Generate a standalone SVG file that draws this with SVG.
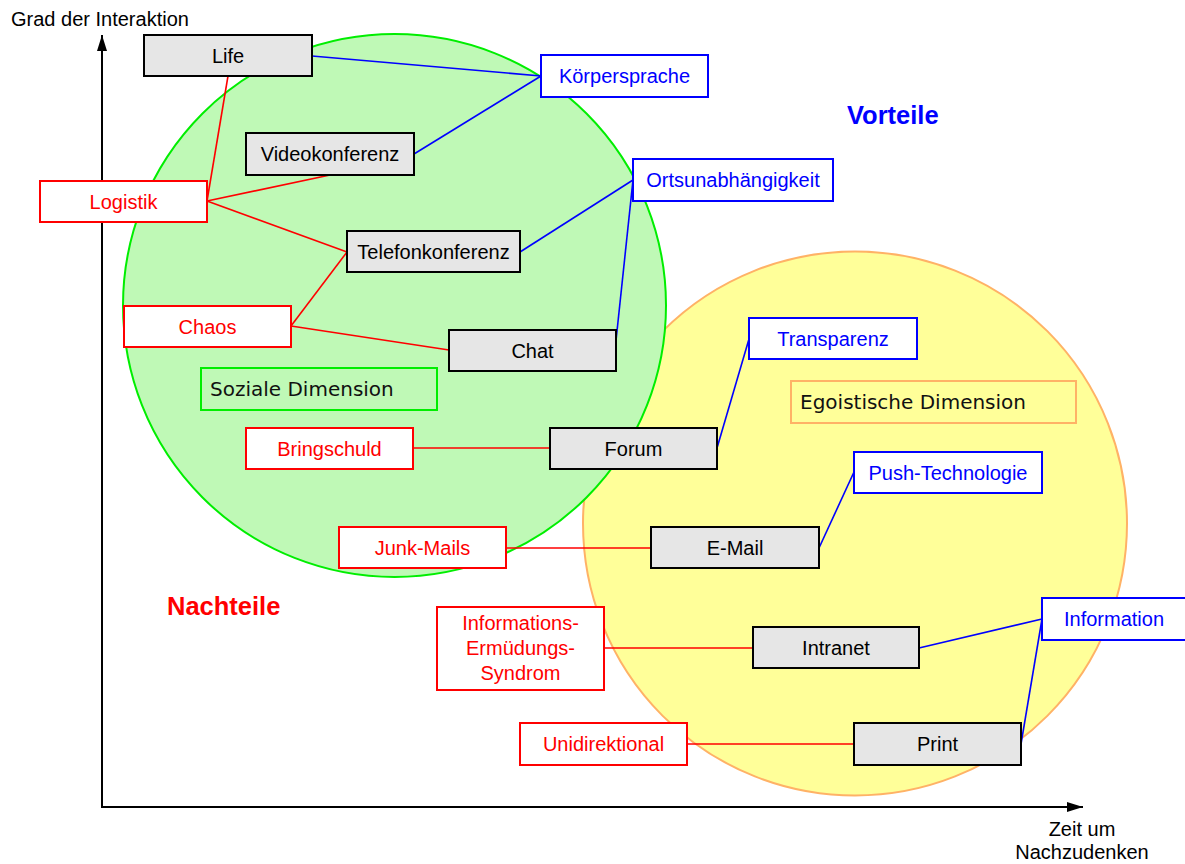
<svg xmlns="http://www.w3.org/2000/svg" width="1185" height="864" viewBox="0 0 1185 864">
  <style>
    text { font-family: "Liberation Sans", Arial, sans-serif; font-size: 20px; }
    .c { text-anchor: middle; }
    .medium rect { fill: #e6e6e6; stroke: #000; stroke-width: 2; }
    .medium text { fill: #000; }
    .pro rect { fill: #fff; stroke: #0000ff; stroke-width: 2; }
    .pro text { fill: #0000ff; }
    .con rect { fill: #fff; stroke: #ff0000; stroke-width: 2; }
    .con text { fill: #ff0000; }
    .dim text { font-family: "DejaVu Sans", Verdana, sans-serif; fill: #111; }
    .blue { stroke: #0000ff; stroke-width: 1.6; fill: none; }
    .red { stroke: #ff0000; stroke-width: 1.6; fill: none; }
    .axis { stroke: #000; stroke-width: 2; fill: none; }
    .head { font-weight: bold; font-size: 25.5px; }
  </style>
  <defs>
    <marker id="arrow" viewBox="0 0 16 10" refX="16" refY="5" markerWidth="16" markerHeight="10" markerUnits="userSpaceOnUse" orient="auto">
      <path d="M0,0 L16,5 L0,10 Z" fill="#000"/>
    </marker>
  </defs>

  <rect width="1185" height="864" fill="#fff"/>

  <!-- dimension areas -->
  <g id="areas">
    <circle id="egoistic-area" cx="855" cy="523.5" r="272" fill="#ffff99" stroke="#ffb266" stroke-width="2"/>
    <circle id="social-area" cx="394.5" cy="305.5" r="271.5" fill="#bff9b6" stroke="#00ee00" stroke-width="2"/>
  </g>

  <!-- axes -->
  <g id="axes">
    <line class="axis" x1="102" y1="807" x2="102" y2="35" marker-end="url(#arrow)"/>
    <line class="axis" x1="101" y1="807" x2="1083" y2="807" marker-end="url(#arrow)"/>
    <text x="11" y="26">Grad der Interaktion</text>
    <text class="c" x="1082" y="836">Zeit um</text>
    <text class="c" x="1082" y="859">Nachzudenken</text>
  </g>

  <!-- connectors -->
  <g id="connectors">
    <line class="blue" x1="312" y1="56" x2="541" y2="76"/>
    <line class="blue" x1="414" y1="154" x2="541" y2="76"/>
    <line class="blue" x1="520" y1="252" x2="633" y2="180"/>
    <line class="blue" x1="615" y1="350" x2="633" y2="180"/>
    <line class="blue" x1="717" y1="448" x2="749" y2="339"/>
    <line class="blue" x1="819" y1="548" x2="854" y2="472"/>
    <line class="blue" x1="919" y1="648" x2="1042" y2="619"/>
    <line class="blue" x1="1021" y1="744" x2="1042" y2="619"/>
    <line class="red" x1="207" y1="201" x2="228" y2="76"/>
    <line class="red" x1="207" y1="201" x2="330" y2="175"/>
    <line class="red" x1="207" y1="201" x2="347" y2="252"/>
    <line class="red" x1="291" y1="326" x2="347" y2="252"/>
    <line class="red" x1="291" y1="326" x2="449" y2="350"/>
    <line class="red" x1="413" y1="448" x2="550" y2="448"/>
    <line class="red" x1="506" y1="548" x2="651" y2="548"/>
    <line class="red" x1="604" y1="648" x2="753" y2="648"/>
    <line class="red" x1="687" y1="744" x2="854" y2="744"/>
  </g>

  <!-- dimension labels -->
  <g id="social-dimension" class="dim">
    <rect x="201" y="368" width="236" height="42" fill="none" stroke="#00ee00" stroke-width="2"/>
    <text x="210" y="396">Soziale Dimension</text>
  </g>
  <g id="egoistic-dimension" class="dim">
    <rect x="791" y="381" width="285" height="42" fill="none" stroke="#ffb266" stroke-width="2"/>
    <text x="800" y="409">Egoistische Dimension</text>
  </g>

  <!-- communication media -->
  <g id="life" class="medium">
    <rect x="144" y="35" width="168" height="41"/>
    <text class="c" x="228" y="62.5">Life</text>
  </g>
  <g id="videokonferenz" class="medium">
    <rect x="246" y="133" width="168" height="42"/>
    <text class="c" x="330" y="161">Videokonferenz</text>
  </g>
  <g id="telefonkonferenz" class="medium">
    <rect x="347" y="231" width="173" height="41"/>
    <text class="c" x="433.5" y="258.5">Telefonkonferenz</text>
  </g>
  <g id="chat" class="medium">
    <rect x="449" y="330" width="167" height="41"/>
    <text class="c" x="532.5" y="357.5">Chat</text>
  </g>
  <g id="forum" class="medium">
    <rect x="550" y="428" width="167" height="41"/>
    <text class="c" x="633.5" y="455.5">Forum</text>
  </g>
  <g id="email" class="medium">
    <rect x="651" y="527" width="168" height="41"/>
    <text class="c" x="735" y="554.5">E-Mail</text>
  </g>
  <g id="intranet" class="medium">
    <rect x="753" y="627" width="166" height="41"/>
    <text class="c" x="836" y="654.5">Intranet</text>
  </g>
  <g id="print" class="medium">
    <rect x="854" y="723" width="167" height="42"/>
    <text class="c" x="937.5" y="751">Print</text>
  </g>

  <!-- advantages -->
  <g id="koerpersprache" class="pro">
    <rect x="541" y="55" width="167" height="42"/>
    <text class="c" x="624.5" y="83">Körpersprache</text>
  </g>
  <g id="ortsunabhaengigkeit" class="pro">
    <rect x="633" y="159" width="200" height="42"/>
    <text class="c" x="733" y="187">Ortsunabhängigkeit</text>
  </g>
  <g id="transparenz" class="pro">
    <rect x="749" y="318" width="168" height="41"/>
    <text class="c" x="833" y="345.5">Transparenz</text>
  </g>
  <g id="push-technologie" class="pro">
    <rect x="854" y="452" width="188" height="41"/>
    <text class="c" x="948" y="479.5">Push-Technologie</text>
  </g>
  <g id="information" class="pro">
    <rect x="1042" y="598" width="146" height="42"/>
    <text class="c" x="1114" y="626">Information</text>
  </g>

  <!-- disadvantages -->
  <g id="logistik" class="con">
    <rect x="40" y="181" width="167" height="41"/>
    <text class="c" x="123.5" y="208.5">Logistik</text>
  </g>
  <g id="chaos" class="con">
    <rect x="124" y="306" width="167" height="41"/>
    <text class="c" x="207.5" y="333.5">Chaos</text>
  </g>
  <g id="bringschuld" class="con">
    <rect x="246" y="428" width="167" height="41"/>
    <text class="c" x="329.5" y="455.5">Bringschuld</text>
  </g>
  <g id="junk-mails" class="con">
    <rect x="339" y="527" width="167" height="41"/>
    <text class="c" x="422.5" y="554.5">Junk-Mails</text>
  </g>
  <g id="ermuedungs-syndrom" class="con">
    <rect x="437" y="607" width="167" height="83"/>
    <text class="c" x="520.5" y="630">Informations-</text>
    <text class="c" x="520.5" y="655">Ermüdungs-</text>
    <text class="c" x="520.5" y="680">Syndrom</text>
  </g>
  <g id="unidirektional" class="con">
    <rect x="520" y="723" width="167" height="42"/>
    <text class="c" x="603.5" y="751">Unidirektional</text>
  </g>

  <!-- headings -->
  <g id="vorteile">
    <text class="head" x="847" y="124" fill="#0000ff">Vorteile</text>
  </g>
  <g id="nachteile">
    <text class="head" x="167" y="615" fill="#ff0000">Nachteile</text>
  </g>
</svg>
